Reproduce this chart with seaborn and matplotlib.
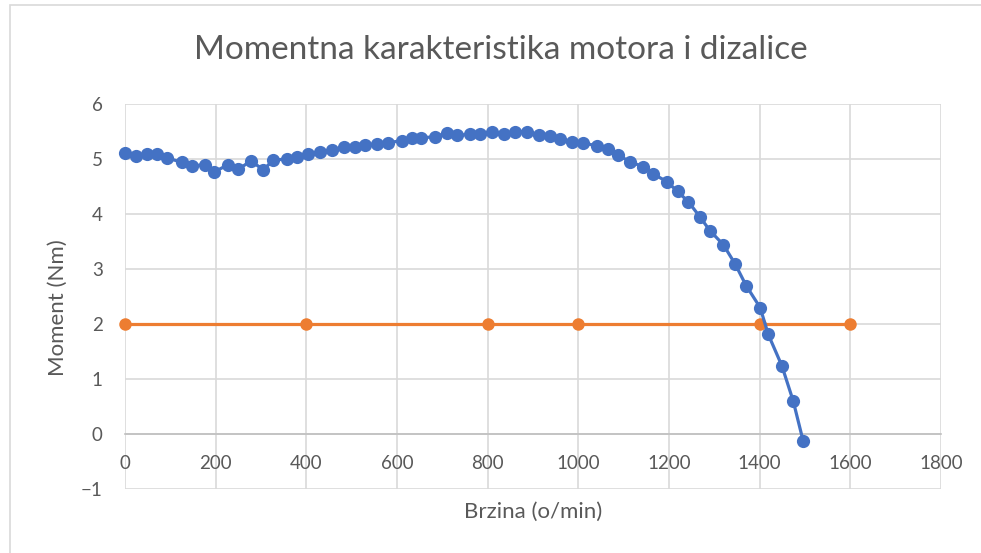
import matplotlib
matplotlib.use("Agg")
import matplotlib.pyplot as plt
import seaborn as sns
import pandas as pd
from matplotlib.patches import Rectangle

# Motor curve (speed in rpm, torque in Nm)
motor_speed = [0, 24, 48, 70, 93, 125, 148, 176, 196, 228, 250, 278, 305, 327,
               357, 379, 404, 430, 456, 482, 507, 529, 555, 581, 610, 632, 654,
               684, 710, 732, 761, 783, 810, 835, 860, 886, 913, 938, 960, 985,
               1011, 1041, 1066, 1088, 1114, 1143, 1165, 1195, 1219, 1243, 1268,
               1290, 1320, 1346, 1370, 1401, 1419, 1449, 1474, 1496]
motor_torque = [5.11, 5.06, 5.09, 5.09, 5.02, 4.94, 4.87, 4.90, 4.76, 4.90, 4.81,
                4.97, 4.80, 4.98, 5.00, 5.03, 5.09, 5.12, 5.16, 5.21, 5.21, 5.25,
                5.28, 5.30, 5.33, 5.39, 5.39, 5.40, 5.48, 5.43, 5.45, 5.45, 5.49,
                5.45, 5.50, 5.50, 5.44, 5.42, 5.36, 5.31, 5.29, 5.24, 5.18, 5.07,
                4.95, 4.86, 4.73, 4.59, 4.41, 4.22, 3.95, 3.70, 3.44, 3.09, 2.70,
                2.30, 1.81, 1.24, 0.60, -0.13]

# Crane (load) curve
crane_speed = [0, 400, 800, 1000, 1400, 1600]
crane_torque = [2, 2, 2, 2, 2, 2]

x_ticks = [0, 200, 400, 600, 800, 1000, 1200, 1400, 1600, 1800]
y_ticks = [-1, 0, 1, 2, 3, 4, 5, 6]

motor = pd.DataFrame({"speed": motor_speed, "torque": motor_torque})
crane = pd.DataFrame({"speed": crane_speed, "torque": crane_torque})

sns.set_theme(style="white")
plt.rcParams['font.family'] = ['Lato', 'DejaVu Sans']

text_col = "#595959"
grid_col = "#d9d9d9"

fig = plt.figure(figsize=(9.81, 5.53), dpi=100)
ax = fig.add_axes([125 / 981, 1 - 489 / 553, (941 - 125) / 981, (489 - 104) / 553])

# light frame around the chart area
fig.patches.append(Rectangle((10 / 981, -0.05), 1.0, 1 - 5 / 553 + 0.05,
                             transform=fig.transFigure, fill=False,
                             edgecolor="#d9d9d9", linewidth=1.2))

sns.lineplot(data=crane, x="speed", y="torque", ax=ax, color="#ED7D31",
             linewidth=2.3, marker="o", markersize=9, markeredgewidth=0,
             sort=False, clip_on=False, zorder=3)
sns.lineplot(data=motor, x="speed", y="torque", ax=ax, color="#4472C4",
             linewidth=2.3, marker="o", markersize=9.5, markeredgewidth=0,
             sort=False, clip_on=False, zorder=4)

ax.set_xlim(0, 1800)
ax.set_ylim(-1, 6)
ax.set_xticks(x_ticks)
ax.set_yticks(y_ticks)
ax.grid(True, color=grid_col, linewidth=1.2)
ax.set_axisbelow(True)

for side in ["top", "right", "left"]:
    ax.spines[side].set_visible(False)
ax.spines["bottom"].set_position(("data", 0))
ax.spines["bottom"].set_color("#bfbfbf")
ax.spines["bottom"].set_linewidth(1.2)
ax.tick_params(axis="both", length=0, labelsize=13.5, colors=text_col)
ax.tick_params(axis="x", pad=15)
ax.tick_params(axis="y", pad=16)

ax.set_xlabel("")
ax.set_ylabel("Moment (Nm)", fontsize=16, color=text_col)
ax.yaxis.set_label_coords((68 - 125) / 816, 0.47)
fig.text((125 + 941) / 2 / 981, 1 - 512 / 553, "Brzina (o/min)", ha="center",
         va="center", fontsize=16, color=text_col)
fig.text(501 / 981, 1 - 50 / 553,
         "Momentna karakteristika motora i dizalice", ha="center", va="center",
         fontsize=24, color=text_col)

fig.savefig("out.png", dpi=100)
